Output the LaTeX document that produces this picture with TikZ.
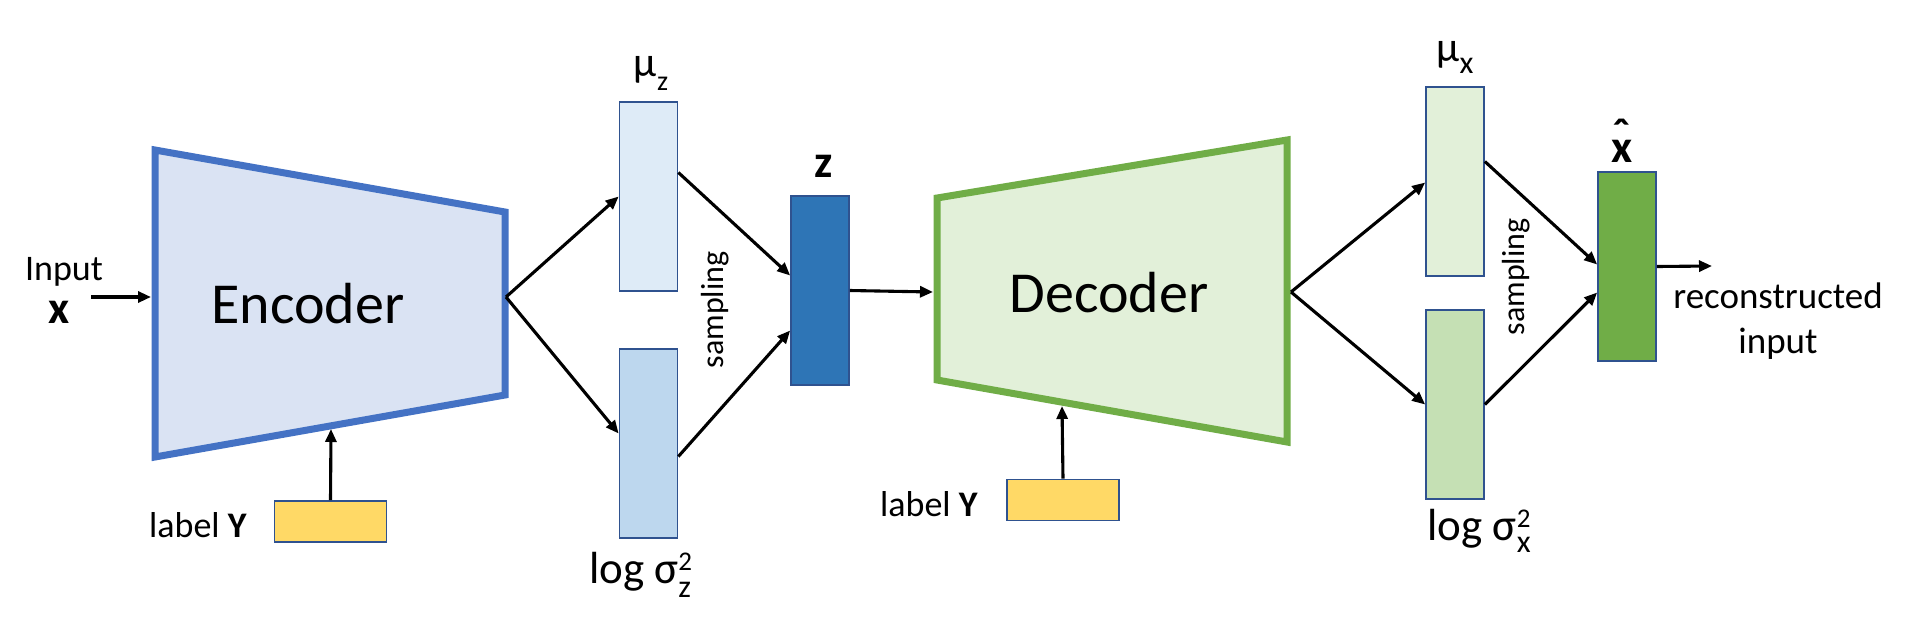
\documentclass[tikz,border=0pt]{standalone}
\usepackage{fontspec}
\setmainfont{Carlito}
\usetikzlibrary{arrows.meta}
\definecolor{encB}{HTML}{4472C4}
\definecolor{encF}{HTML}{DAE3F3}
\definecolor{decB}{HTML}{70AD47}
\definecolor{decF}{HTML}{E2F0D9}
\definecolor{muzF}{HTML}{DEEBF7}
\definecolor{lszF}{HTML}{BDD7EE}
\definecolor{zF}{HTML}{2E75B6}
\definecolor{muxF}{HTML}{E2F0D9}
\definecolor{lsxF}{HTML}{C5E0B4}
\definecolor{xhF}{HTML}{70AD47}
\definecolor{yelF}{HTML}{FFD966}
\definecolor{boxB}{HTML}{2F528F}
\tikzset{
  vecbox/.style={draw=boxB, line width=1.7pt, inner sep=0pt, minimum width=58pt, minimum height=#1},
  ybox/.style={draw=boxB, fill=yelF, line width=1.7pt, inner sep=0pt, minimum width=112pt, minimum height=41pt},
  conn/.style={line width=3.1pt, -{Triangle[length=13pt,width=11pt]}},
  txt/.style={inner sep=0pt, anchor=base},
  big/.style={txt, font=\fontsize{58}{58}\selectfont},
  mid/.style={txt, font=\fontsize{36}{42}\selectfont},
  var/.style={txt, font=\fontsize{46}{46}\selectfont\bfseries},
  smp/.style={inner sep=0pt, rotate=90, font=\fontsize{32}{32}\selectfont},
}
\begin{document}
\begin{tikzpicture}[x=1pt,y=-1pt]
\useasboundingbox (0,0) rectangle (1918,632);
% encoder and decoder trapezoids
\draw[draw=encB, fill=encF, line width=7pt, line join=miter] (155,150) -- (505,212) -- (505,395) -- (155,457) -- cycle;
\draw[draw=decB, fill=decF, line width=7pt, line join=miter] (937,198) -- (1287,140) -- (1287,442) -- (937,380) -- cycle;
\node[big] (enc) at (308,323) {Encoder};
\node[big] (dec) at (1109,312) {Decoder};
% named points on the trapezoids
\coordinate (inSrc) at (91,297);
\coordinate (encIn) at (151,297);
\coordinate (encOut) at (506,297);
\coordinate (encBot) at (331,429);
\coordinate (decIn) at (933,292);
\coordinate (decOut) at (1291,292);
\coordinate (decBot) at (1062,406);
\coordinate (outEnd) at (1712,266);
% vectors
\node[vecbox=189pt, fill=muzF] (muz) at (648.5,196.5) {};
\node[vecbox=189pt, fill=lszF] (lsz) at (648.5,443.5) {};
\node[vecbox=189pt, fill=zF] (z) at (820,290.5) {};
\node[vecbox=189pt, fill=muxF] (mux) at (1455,181.5) {};
\node[vecbox=189pt, fill=lsxF] (lsx) at (1455,404.5) {};
\node[vecbox=189pt, fill=xhF] (xh) at (1627,266.5) {};
\node[ybox] (y1) at (330.5,521.5) {};
\node[ybox] (y2) at (1063,500) {};
% texts
\node[mid] (inlbl) at (64,280) {Input};
\node[var] (xlbl) at (59,323) {x};
\node[mid] (ylbl1) at (198,537) {label \textbf{Y}};
\node[mid] (ylbl2) at (929,516) {label \textbf{Y}};
\node[txt, font=\fontsize{42}{42}\selectfont] (muzlbl) at (651,76) {μ\raisebox{-14pt}{\fontsize{28}{28}\selectfont z}};
\node[txt, font=\fontsize{45}{45}\selectfont] (lszlbl) at (640,583) {log σ\rlap{\raisebox{13pt}{\fontsize{27}{27}\selectfont 2}}\raisebox{-14pt}{\fontsize{32}{32}\selectfont z}};
\node[var] (zlbl) at (824,177) {z};
\node[smp] (smp1) at (715,310) {sampling};
\node[txt, font=\fontsize{42}{42}\selectfont] (muxlbl) at (1455,61) {μ\raisebox{-12pt}{\fontsize{32}{32}\selectfont x}};
\node[txt, font=\fontsize{45}{45}\selectfont] (lsxlbl) at (1479,540) {log σ\rlap{\raisebox{13pt}{\fontsize{27}{27}\selectfont 2}}\raisebox{-12pt}{\fontsize{32}{32}\selectfont x}};
\node[smp] (smp2) at (1516,277) {sampling};
\node[var] (xhlbl) at (1622,162) {\makebox[0pt][l]{\hspace{1pt}\raisebox{12pt}{ˆ}}x};
\node[txt, align=center, font=\fontsize{37}{45}\selectfont] (reclbl) at (1778,353) {reconstructed\\input};
% connectors
\draw[conn] (inSrc) -- (encIn);
\draw[conn] (encOut) -- (muz.west);
\draw[conn] (encOut) -- ([yshift=10pt]lsz.west);
\draw[conn] ([yshift=24pt]muz.east) -- ([yshift=15pt]z.west);
\draw[conn] ([yshift=-13pt]lsz.east) -- ([yshift=-40pt]z.west);
\draw[conn] (y1.north) -- (encBot);
\draw[conn] (z.east) -- (decIn);
\draw[conn] (y2.north) -- (decBot);
\draw[conn] (decOut) -- ([yshift=-1pt]mux.west);
\draw[conn] (decOut) -- (lsx.west);
\draw[conn] ([yshift=20pt]mux.east) -- ([yshift=2pt]xh.west);
\draw[conn] (lsx.east) -- ([yshift=-26pt]xh.west);
\draw[conn] (xh.east) -- (outEnd);
\end{tikzpicture}
\end{document}
